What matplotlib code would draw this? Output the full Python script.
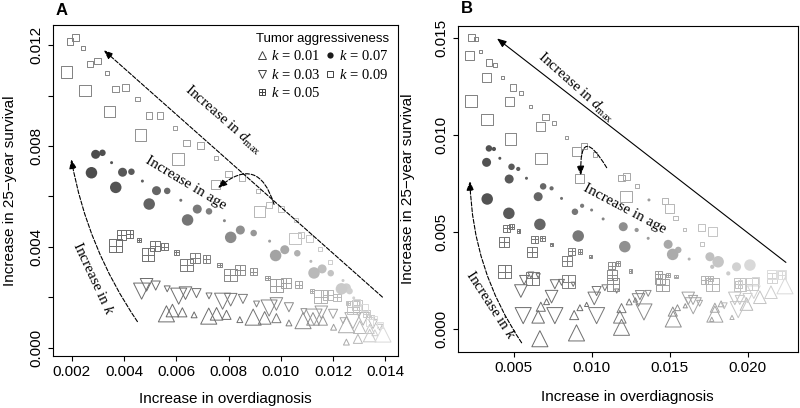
import numpy as np
import matplotlib
matplotlib.use("Agg")
import matplotlib.pyplot as plt
from matplotlib.lines import Line2D
from matplotlib.font_manager import FontProperties

plt.rcParams['font.family'] = ['Liberation Sans', 'DejaVu Sans']
plt.rcParams['mathtext.fontset'] = 'custom'
plt.rcParams['mathtext.rm'] = 'Liberation Serif'
plt.rcParams['mathtext.it'] = 'Liberation Serif:italic'

# ---- panel A data (size code 1..5 = marker size class) ----
A_k01_x = [0.00562, 0.00585, 0.00623, 0.00668, 0.00724, 0.00754, 0.00792, 0.00843, 0.00894, 0.00938, 0.00983, 0.01031,
           0.01085, 0.01123, 0.01161, 0.01202, 0.01251, 0.01302, 0.01340, 0.01360, 0.01251, 0.01295, 0.01340, 0.01391]
A_k01_y = [0.00135, 0.00148, 0.00141, 0.00131, 0.00126, 0.00135, 0.00131, 0.00112, 0.00122, 0.00119, 0.00118, 0.00099,
           0.00108, 0.00115, 0.00108, 0.00082, 0.00092, 0.00082, 0.00075, 0.00060, 0.00023, 0.00036, 0.00049, 0.00055]
A_k01_s = [5, 4, 3, 2] * 5 + [2, 3, 4, 5]

A_k03_x = [0.00467, 0.00486, 0.00521, 0.00565, 0.00609, 0.00635, 0.00677, 0.00725, 0.00777, 0.00808, 0.00855, 0.00907,
           0.00955, 0.00983, 0.01031, 0.01088, 0.01127, 0.01155, 0.01200, 0.01238, 0.01276, 0.01315, 0.01353, 0.01378]
A_k03_y = [0.00225, 0.00250, 0.00247, 0.00234, 0.00205, 0.00217, 0.00217, 0.00206, 0.00185, 0.00191, 0.00194, 0.00174,
           0.00158, 0.00174, 0.00161, 0.00144, 0.00122, 0.00141, 0.00135, 0.00108, 0.00108, 0.00115, 0.00095, 0.00082]
A_k03_s = [5, 4, 3, 2] * 6

A_k05_x = [0.00368, 0.00390, 0.00422, 0.00457, 0.00491, 0.00518, 0.00553, 0.00600, 0.00639, 0.00670, 0.00715, 0.00766,
           0.00807, 0.00843, 0.00894, 0.00949, 0.00983, 0.01019, 0.01068, 0.01119, 0.01153, 0.01180, 0.01215, 0.01257,
           0.01276, 0.01293, 0.01327, 0.01347]
A_k05_y = [0.00405, 0.00449, 0.00451, 0.00428, 0.00370, 0.00405, 0.00401, 0.00378, 0.00329, 0.00356, 0.00352, 0.00329,
           0.00289, 0.00309, 0.00302, 0.00277, 0.00247, 0.00257, 0.00251, 0.00226, 0.00203, 0.00211, 0.00201, 0.00178,
           0.00161, 0.00170, 0.00135, 0.00122]
A_k05_s = [5, 4, 3, 2] * 7

A_k07_x = [0.00291, 0.00317, 0.00352, 0.00275, 0.00394, 0.00428, 0.00470, 0.00368, 0.00524, 0.00565, 0.00617,
           0.00496, 0.00680, 0.00725, 0.00784, 0.00643, 0.00845, 0.00896, 0.00957, 0.00808, 0.01015, 0.01063, 0.01115,
           0.00980, 0.01158, 0.01191, 0.01238, 0.01127, 0.01251, 0.01263, 0.01279, 0.01232]
A_k07_y = [0.00767, 0.00773, 0.00734, 0.00694, 0.00696, 0.00698, 0.00661, 0.00636, 0.00623, 0.00622, 0.00585,
           0.00570, 0.00550, 0.00541, 0.00504, 0.00507, 0.00467, 0.00455, 0.00423, 0.00438, 0.00389, 0.00375, 0.00343,
           0.00366, 0.00313, 0.00296, 0.00267, 0.00297, 0.00238, 0.00225, 0.00198, 0.00234]
A_k07_s = [4, 3, 1] + [5, 4, 3, 1] * 7 + [5]

A_k09_x = [0.00192, 0.00214, 0.00243, 0.00180, 0.00269, 0.00298, 0.00335, 0.00250, 0.00367, 0.00405, 0.00451,
           0.00345, 0.00495, 0.00538, 0.00594, 0.00463, 0.00639, 0.00692, 0.00752, 0.00607, 0.00800, 0.00852, 0.00913,
           0.00751, 0.00955, 0.01000, 0.01057, 0.00919, 0.01077, 0.01110, 0.01149, 0.01054, 0.01187,
           0.01290, 0.01320, 0.01360, 0.01340, 0.01380]
A_k09_y = [0.01213, 0.01229, 0.01187, 0.01094, 0.01124, 0.01137, 0.01090, 0.01019, 0.01025, 0.01032, 0.00985,
           0.00936, 0.00921, 0.00921, 0.00870, 0.00844, 0.00811, 0.00801, 0.00751, 0.00749, 0.00689, 0.00676, 0.00623,
           0.00646, 0.00566, 0.00550, 0.00506, 0.00540, 0.00448, 0.00434, 0.00392, 0.00434, 0.00340,
           0.00180, 0.00160, 0.00120, 0.00100, 0.00090]
A_k09_s = [3, 3, 2] + [5, 3, 3, 2] * 5 + [4, 3, 3, 2] + [5, 3, 3, 2] + [5, 2] + [3, 3, 2, 3, 3]

# ---- panel B data ----
B_k01_x = [0.00673, 0.00710, 0.00656, 0.00667, 0.00887, 0.00924, 0.00967, 0.00902, 0.01180, 0.01191, 0.01240, 0.01280,
           0.01191, 0.01520, 0.01550, 0.01600, 0.01523, 0.01790, 0.01790, 0.01830, 0.01993, 0.02079, 0.02240, 0.02150,
           0.01770, 0.01900]
B_k01_y = [0.00115, 0.00141, 0.00063, -0.00050, 0.00072, 0.00110, 0.00127, -0.00020, 0.00063, 0.00108, 0.00140, 0.00150,
           0.00009, 0.00090, 0.00110, 0.00120, 0.00052, 0.00110, 0.00077, 0.00130, 0.00129, 0.00164, 0.00223, 0.00190,
           0.00050, 0.00060]
B_k01_s = [3, 2, 4, 5, 3, 2, 1, 5, 4, 3, 2, 1, 5, 3, 2, 1, 5, 3, 5, 2, 4, 4, 5, 4, 1, 1]

B_k03_x = [0.00545, 0.00566, 0.00609, 0.00656, 0.00560, 0.00742, 0.00763, 0.00806, 0.00881, 0.00763, 0.01016, 0.01031,
           0.01084, 0.01160, 0.01031, 0.01300, 0.01309, 0.01362, 0.01335, 0.01619, 0.01650, 0.01692, 0.01651,
           0.01918, 0.01950, 0.01850, 0.01940, 0.02000, 0.02040]
B_k03_y = [0.00196, 0.00253, 0.00279, 0.00275, 0.00069, 0.00167, 0.00231, 0.00241, 0.00231, 0.00069, 0.00158, 0.00196,
           0.00213, 0.00196, 0.00069, 0.00150, 0.00175, 0.00184, 0.00088, 0.00158, 0.00150, 0.00133, 0.00120,
           0.00158, 0.00150, 0.00120, 0.00100, 0.00160, 0.00190]
B_k03_s = [4, 3, 2, 1, 5, 4, 3, 2, 1, 5, 4, 3, 2, 1, 5, 4, 3, 2, 5, 4, 3, 2, 5, 4, 3, 2, 5, 3, 4]

B_k05_x = [0.00453, 0.00485, 0.00532, 0.00438, 0.00442, 0.00635, 0.00682, 0.00742, 0.00614, 0.00618, 0.00870, 0.00924,
           0.00994, 0.00842, 0.00849, 0.01127, 0.01169, 0.01250, 0.01130, 0.01137, 0.01426, 0.01490, 0.01540, 0.01440,
           0.01452, 0.01726, 0.01760, 0.01773, 0.01940, 0.01951, 0.02026, 0.02154, 0.02218]
B_k05_y = [0.00520, 0.00528, 0.00506, 0.00447, 0.00296, 0.00463, 0.00468, 0.00437, 0.00399, 0.00262, 0.00402, 0.00399,
           0.00373, 0.00352, 0.00244, 0.00327, 0.00339, 0.00300, 0.00280, 0.00231, 0.00282, 0.00279, 0.00270, 0.00260,
           0.00227, 0.00253, 0.00260, 0.00231, 0.00230, 0.00231, 0.00232, 0.00262, 0.00279]
B_k05_s = [3, 2, 1, 4, 5] * 4 + [3, 2, 1, 4, 5] + [3, 2, 5] + [3, 5, 5] + [4, 3]

B_k07_x = [0.00340, 0.00372, 0.00410, 0.00325, 0.00485, 0.00528, 0.00581, 0.00470, 0.00688, 0.00742, 0.00806, 0.00656,
           0.00938, 0.00999, 0.01073, 0.00892, 0.01202, 0.01288, 0.01362, 0.01367, 0.01490, 0.01555, 0.01625, 0.01758,
           0.01773, 0.01929, 0.01876, 0.00329, 0.00468, 0.00667, 0.00913, 0.01212, 0.01519, 0.01811, 0.02015]
B_k07_y = [0.00932, 0.00929, 0.00881, 0.00860, 0.00837, 0.00826, 0.00778, 0.00774, 0.00736, 0.00726, 0.00674, 0.00683,
           0.00636, 0.00614, 0.00568, 0.00605, 0.00528, 0.00511, 0.00468, 0.00666, 0.00437, 0.00408, 0.00361, 0.00373,
           0.00321, 0.00321, 0.00287, 0.00671, 0.00597, 0.00540, 0.00480, 0.00425, 0.00385, 0.00347, 0.00330]
B_k07_s = [3, 2, 1, 4] * 3 + [2, 1, 1, 3] + [4, 2, 1, 1] + [4, 3, 1] + [4, 2] + [4, 2] + [5] * 8

B_k09_x = [0.00229, 0.00258, 0.00288, 0.00218, 0.00340, 0.00378, 0.00425, 0.00325, 0.00496, 0.00545, 0.00605, 0.00470,
           0.00703, 0.00759, 0.00836, 0.00673, 0.00951, 0.01020, 0.00902, 0.01191, 0.01223, 0.01291, 0.00924,
           0.01470, 0.01538, 0.01598, 0.01500, 0.01705, 0.01709, 0.01773, 0.00224, 0.00329, 0.00479, 0.00673, 0.01219,
           0.02154, 0.02218, 0.02050, 0.01950]
B_k09_y = [0.01503, 0.01496, 0.01431, 0.01410, 0.01374, 0.01362, 0.01297, 0.01297, 0.01245, 0.01218, 0.01147, 0.01176,
           0.01095, 0.01063, 0.00987, 0.01046, 0.00944, 0.00901, 0.00915, 0.00778, 0.00786, 0.00738, 0.00778,
           0.00660, 0.00574, 0.00511, 0.00620, 0.00523, 0.00437, 0.00502, 0.01176, 0.01082, 0.00980, 0.00881, 0.00683,
           0.00279, 0.00279, 0.00250, 0.00240]
B_k09_s = [3, 2, 1, 4] * 4 + [3, 2, 4] + [3, 3, 2, 4] + [3, 2, 1, 4] + [3, 2, 4] + [5] * 5 + [4, 4, 3, 2]

SIZE_PX = {1: 3.0, 2: 4.2, 3: 6.5, 4: 9.0, 5: 11.5}
SCALE = {'o': 1.0, 's': 1.0, 'x': 1.1, '^': 1.4, 'v': 1.4}


def draw(ax, xs, ys, sz, kind, g0, g1, p):
    xs = np.asarray(xs); ys = np.asarray(ys)
    t = (xs - xs.min()) / (xs.max() - xs.min())
    cols = [(g, g, g) for g in g0 + (g1 - g0) * t**p]
    area = (np.array([SIZE_PX[s] for s in sz]) * SCALE[kind] * 72 / 100) ** 2
    if kind == 'o':
        ax.scatter(xs, ys, s=area, c=cols, edgecolors='none', zorder=2)
    elif kind == 'x':
        ax.scatter(xs, ys, s=area, marker='s', facecolors='none', edgecolors=cols, linewidths=0.7)
        ax.scatter(xs, ys, s=area, marker='+', c=cols, linewidths=0.7)
    else:
        ax.scatter(xs, ys, s=area, marker=kind, facecolors='none', edgecolors=cols, linewidths=0.7)


def arrow(ax, start, end, rad, ls='--'):
    ax.annotate('', xy=end, xytext=start,
                arrowprops=dict(arrowstyle='-|>,head_length=0.55,head_width=0.22', lw=0.8, ls=ls,
                                color='black', fc='black', connectionstyle=f'arc3,rad={rad}'))


def style(ax, xt, xl, yt, yl, xlim, ylim, ylab_x, xlab_y):
    ax.set_xlim(*xlim); ax.set_ylim(*ylim)
    ax.set_xticks(xt); ax.set_xticklabels(xl)
    ax.set_yticks(yt); ax.set_yticklabels(yl, rotation=90, va='center')
    ax.tick_params(direction='out', length=3.6, width=0.8, labelsize=11, pad=3)
    for sp in ax.spines.values():
        sp.set_linewidth(0.8)
    ax.set_xlabel('Increase in overdiagnosis', fontsize=11)
    ax.set_ylabel('Increase in 25\u2212year survival', fontsize=11)
    ax.yaxis.set_label_coords(ylab_x, 0.5)
    ax.xaxis.set_label_coords(0.5, xlab_y)


fig = plt.figure(figsize=(8, 4.08), dpi=100)
axA = fig.add_axes([0.066, 0.1275, 0.431, 0.811])
axB = fig.add_axes([0.572, 0.138, 0.4254, 0.798])

draw(axA, A_k01_x, A_k01_y, A_k01_s, '^', 0.42, 0.85, 3)
draw(axA, A_k03_x, A_k03_y, A_k03_s, 'v', 0.42, 0.75, 2)
draw(axA, A_k05_x, A_k05_y, A_k05_s, 'x', 0.42, 0.8, 1.5)
draw(axA, A_k07_x, A_k07_y, A_k07_s, 'o', 0.3, 0.82, 1.2)
draw(axA, A_k09_x, A_k09_y, A_k09_s, 's', 0.5, 0.88, 1.2)

draw(axB, B_k01_x, B_k01_y, B_k01_s, '^', 0.42, 0.85, 2)
draw(axB, B_k03_x, B_k03_y, B_k03_s, 'v', 0.42, 0.82, 2)
draw(axB, B_k05_x, B_k05_y, B_k05_s, 'x', 0.45, 0.85, 1.5)
draw(axB, B_k07_x, B_k07_y, B_k07_s, 'o', 0.32, 0.85, 1.2)
draw(axB, B_k09_x, B_k09_y, B_k09_s, 's', 0.5, 0.88, 1.3)

style(axA, np.arange(0.002, 0.0141, 0.002), [f'{v:.3f}' for v in np.arange(0.002, 0.0141, 0.002)],
      np.arange(0, 0.0121, 0.002), ['0.000', '', '0.004', '', '0.008', '', '0.012'],
      (0.00127, 0.01447), (-0.00032, 0.01279), -0.104, -0.109)
style(axB, [0.005, 0.010, 0.015, 0.020], ['0.005', '0.010', '0.015', '0.020'],
      [0, 0.005, 0.010, 0.015], ['0.000', '0.005', '0.010', '0.015'],
      (0.00139, 0.02323), (-0.00117, 0.01563), -0.125, -0.118)

serif = dict(family='Liberation Serif', fontsize=11)
# panel A annotations
arrow(axA, (0.01397, 0.00194), (0.00314, 0.01187), 0)
axA.text(0.00778, 0.00903, r'Increase in $d_{\mathrm{max}}$', rotation=-41, ha='center', va='center', **serif)
arrow(axA, (0.00977, 0.00558), (0.00751, 0.00626), 0.8)
axA.text(0.00636, 0.00653, 'Increase in age', rotation=-31, ha='center', va='center', **serif)
arrow(axA, (0.00457, 0.00095), (0.00196, 0.00758), -0.11)
axA.text(0.0028, 0.00277, r'Increase in $k$', rotation=-65, ha='center', va='center', **serif)

# panel B annotations
arrow(axB, (0.0226, 0.00335), (0.00378, 0.01508), 0, ls='-')
axB.text(0.00898, 0.01244, r'Increase in $d_{\mathrm{max}}$', rotation=-41.6, ha='center', va='center', **serif)
arrow(axB, (0.01105, 0.00820), (0.0093, 0.00779), 2)
axB.text(0.01212, 0.00619, 'Increase in age', rotation=-28, ha='center', va='center', **serif)
arrow(axB, (0.0056, -0.00083), (0.00218, 0.00778), -0.15)
axB.text(0.00352, 0.00124, r'Increase in $k$', rotation=-57, ha='center', va='center', **serif)

# legend
k_labels = [r'$k$ = 0.01', r'$k$ = 0.03', r'$k$ = 0.05', r'$k$ = 0.07', r'$k$ = 0.09']
hkw = dict(ls='none', mec='0.25', mfc='none', mew=0.7)
handles = [Line2D([], [], marker='^', ms=6, **hkw),
           Line2D([], [], marker='v', ms=6, **hkw),
           (Line2D([], [], marker='s', ms=5, **hkw), Line2D([], [], marker='+', ms=5, **hkw)),
           Line2D([], [], marker='o', ms=4.5, ls='none', color='0.1', mec='none'),
           Line2D([], [], marker='s', ms=4.5, **hkw)]
axA.legend(handles, k_labels, ncol=2, loc='upper right', frameon=False, title='Tumor aggressiveness',
           prop=FontProperties(family='Liberation Serif', size=10.5),
           title_fontproperties=FontProperties(family='Liberation Sans', size=9.5),
           handlelength=0.6, handletextpad=0.3, columnspacing=0.4, labelspacing=0.3, borderaxespad=0.15)

fig.text(0.069, 0.975, 'A', fontsize=12, fontweight='bold', va='center')
fig.text(0.576, 0.978, 'B', fontsize=12, fontweight='bold', va='center')

fig.savefig('out.png', dpi=100)
